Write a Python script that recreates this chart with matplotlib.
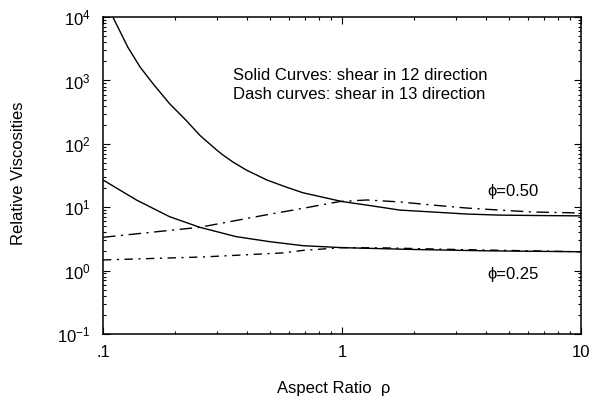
import matplotlib
matplotlib.use("Agg")
from matplotlib import pyplot as plt
from matplotlib.ticker import LogLocator, NullFormatter

plt.rcParams["font.family"] = ["Liberation Sans", "DejaVu Sans"]
plt.rcParams["mathtext.fontset"] = "custom"
plt.rcParams["mathtext.rm"] = "Liberation Sans"
plt.rcParams["mathtext.it"] = "Liberation Sans:italic"

# phi = 0.50, shear in 12 direction (solid)
rho_50_12 = [0.100, 0.110, 0.127, 0.143, 0.162, 0.190, 0.223, 0.255, 0.299, 0.318,
             0.350, 0.398, 0.485, 0.580, 0.687, 1.00, 1.27, 1.75, 2.40, 3.33,
             4.58, 6.30, 10.0]
vis_50_12 = [19500, 10000, 3360, 1626, 887, 430, 234, 135, 80, 66.5,
             51.6, 38.6, 26.9, 21.0, 16.9, 12.3, 10.8, 9.0, 8.4, 7.8,
             7.5, 7.4, 7.3]

# phi = 0.50, shear in 13 direction (dash)
rho_50_13 = [0.100, 0.254, 0.485, 0.687, 0.98, 1.27, 1.75, 2.40, 3.33, 4.58, 6.30, 10.0]
vis_50_13 = [3.35, 4.82, 7.6, 9.6, 12.3, 13.0, 12.1, 10.8, 9.7, 9.0, 8.4, 8.1]

# phi = 0.25, shear in 12 direction (solid)
rho_25_12 = [0.100, 0.138, 0.190, 0.254, 0.361, 0.498, 0.687, 1.00, 2.00, 4.00, 10.0]
vis_25_12 = [26.9, 13.0, 7.08, 4.82, 3.43, 2.86, 2.47, 2.30, 2.15, 2.05, 1.98]

# phi = 0.25, shear in 13 direction (dash)
rho_25_13 = [0.100, 0.263, 0.566, 0.687, 1.00, 1.50, 3.00, 10.0]
vis_25_13 = [1.47, 1.64, 1.90, 2.08, 2.30, 2.28, 2.15, 1.98]

x_ticks = [0.1, 1, 10]
x_tick_labels = [".1", "1", "10"]
y_ticks = [1e-1, 1e0, 1e1, 1e2, 1e3, 1e4]
y_tick_labels = ["10$^{-1}$", "10$^{0}$", "10$^{1}$", "10$^{2}$", "10$^{3}$", "10$^{4}$"]

fig = plt.figure(figsize=(5.92, 3.98), dpi=100)
ax = fig.add_axes([0.174, 0.161, 0.807, 0.796])

ax.plot(rho_50_12, vis_50_12, color="black", lw=1.0, ls="-")
ax.plot(rho_25_12, vis_25_12, color="black", lw=1.0, ls="-")
ax.plot(rho_50_13, vis_50_13, color="black", lw=1.0, ls=(0, (9, 4, 1.5, 4)))
ax.plot(rho_25_13, vis_25_13, color="black", lw=1.0, ls=(0, (6, 4, 1.5, 4)))

ax.set_xscale("log")
ax.set_yscale("log")
ax.set_xlim(0.1, 10)
ax.set_ylim(1e-1, 1e4)

ax.set_xticks(x_ticks)
ax.set_xticklabels(x_tick_labels)
ax.set_yticks(y_ticks)
ax.set_yticklabels(y_tick_labels)
ax.xaxis.set_minor_locator(LogLocator(base=10, subs=range(2, 10)))
ax.yaxis.set_minor_locator(LogLocator(base=10, subs=range(2, 10)))
ax.xaxis.set_minor_formatter(NullFormatter())
ax.yaxis.set_minor_formatter(NullFormatter())

ax.tick_params(which="both", direction="in", top=True, right=True, labelsize=12, width=0.8)
ax.tick_params(which="major", length=5)
ax.tick_params(which="minor", length=2.5)
ax.tick_params(axis="x", pad=8)
ax.tick_params(axis="y", pad=9)
for s in ax.spines.values():
    s.set_linewidth(1.1)

ax.text(0.35, 1216, "Solid Curves: shear in 12 direction", fontsize=12, va="center", ha="left")
ax.text(0.35, 590, "Dash curves: shear in 13 direction", fontsize=12, va="center", ha="left")
ax.text(4.05, 17.4, "ϕ=0.50", fontsize=12, va="center", ha="left")
ax.text(4.05, 0.853, "ϕ=0.25", fontsize=12, va="center", ha="left")

fig.text(0.032, 0.565, "Relative Viscosities", rotation=90, fontsize=12, ha="center", va="center")
fig.text(0.563, 0.025, "Aspect Ratio  ρ", fontsize=12, ha="center", va="center")

fig.savefig("out.png", dpi=100)
